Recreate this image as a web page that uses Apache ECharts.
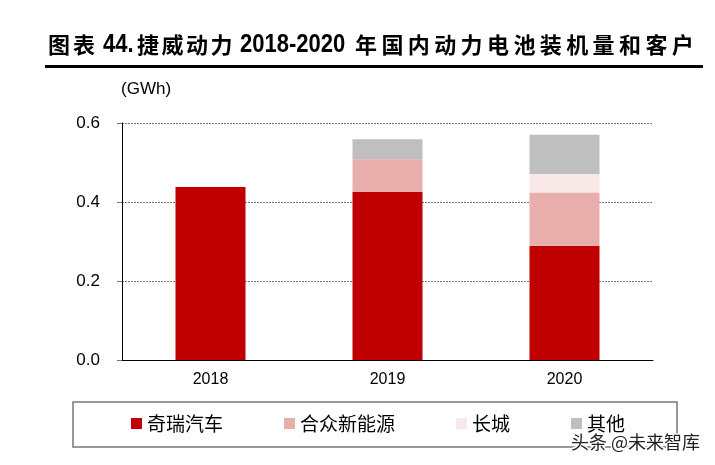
<!DOCTYPE html>
<html><head><meta charset="utf-8">
<script src="https://cdn.jsdelivr.net/npm/echarts@6/dist/echarts.min.js"></script>
<style>html,body{margin:0;padding:0;background:#fff}#c{width:715px;height:465px}</style>
</head><body><div id="c"></div>
<script>
const categories = ['2018', '2019', '2020'];
const seriesNames = ['奇瑞汽车', '合众新能源', '长城', '其他'];
const chery = [0.438, 0.426, 0.289];
const hozon = [null, 0.082, 0.135];
const greatWall = [null, null, 0.047];
const others = [null, 0.051, 0.099];
const yTicks = [0.0, 0.2, 0.4, 0.6];
const colors = ['#C00000', '#E8AEAC', '#F9E8E8', '#BFBFBF'];

const values = [chery, hozon, greatWall, others];
const chart = echarts.init(document.getElementById('c'), null, {renderer: 'canvas'});
const cjk = '"Noto Sans CJK SC", sans-serif';

const graphics = [];
function cjkChunk(str, x0, pitch) {
  Array.from(str).forEach((ch, i) => {
    graphics.push({type: 'text', x: x0 + i * pitch, y: 45,
      style: {text: ch, font: 'bold 22px ' + cjk, fill: '#000', textVerticalAlign: 'middle', textAlign: 'left'}});
  });
}
function numChunk(str, x0) {
  graphics.push({type: 'text', x: x0, y: 45, scaleX: 0.88, originX: 0,
    style: {text: str, font: 'bold 25px "Liberation Sans", Arial, sans-serif', fill: '#000', textVerticalAlign: 'middle', textAlign: 'left'}});
}
cjkChunk('图表', 48, 25);
numChunk('44.', 103);
cjkChunk('捷威动力', 137, 24.5);
numChunk('2018-2020', 240);
cjkChunk('年国内动力电池装机量和客户', 355, 26.4);
graphics.push(
  {type: 'rect', shape: {x: 45, y: 65, width: 658, height: 3}, style: {fill: '#000'}},
  {type: 'text', left: 121, top: 81, style: {text: '(GWh)', font: '17px "Liberation Sans", Arial, sans-serif', fill: '#000'}},
  {type: 'rect', shape: {x: 73, y: 402, width: 604, height: 45}, style: {fill: 'none', stroke: '#777', lineWidth: 1.5}},
  {type: 'text', x: 571, y: 442, z: 100,
    style: {text: '头条 @未来智库', font: '18px ' + cjk, fill: '#222', stroke: '#fff', lineWidth: 3, textVerticalAlign: 'middle'}}
);

chart.setOption({
  animation: false,
  grid: {left: 122, right: 62, top: 123, bottom: 105},
  graphic: graphics,
  legend: {
    left: 131, top: 414, padding: 0, itemWidth: 11, itemHeight: 11, itemGap: 61, icon: 'rect',
    textStyle: {fontSize: 19, fontFamily: cjk, color: '#000'},
    data: seriesNames
  },
  xAxis: {
    type: 'category', data: categories,
    axisLine: {lineStyle: {color: '#000', width: 1}},
    axisTick: {length: 5, lineStyle: {color: '#000'}},
    axisLabel: {fontSize: 16, fontFamily: '"Liberation Sans", Arial', color: '#000', margin: 12}
  },
  yAxis: {
    type: 'value', min: 0, max: 0.6, interval: 0.2,
    axisLine: {show: true, lineStyle: {color: '#000'}},
    axisTick: {show: true, length: 5, lineStyle: {color: '#777'}},
    axisLabel: {fontSize: 17, fontFamily: '"Liberation Sans", Arial', color: '#000', margin: 22,
      formatter: v => { const t = yTicks.find(x => Math.abs(x - v) < 1e-9); return (t !== undefined ? t : v).toFixed(1); }},
    splitLine: {lineStyle: {color: '#777', type: [2, 1], width: 1}}
  },
  series: seriesNames.map((n, i) => ({
    name: n, type: 'bar', stack: 'total', barWidth: 70,
    itemStyle: {color: colors[i]},
    data: values[i]
  }))
});
</script></body></html>
